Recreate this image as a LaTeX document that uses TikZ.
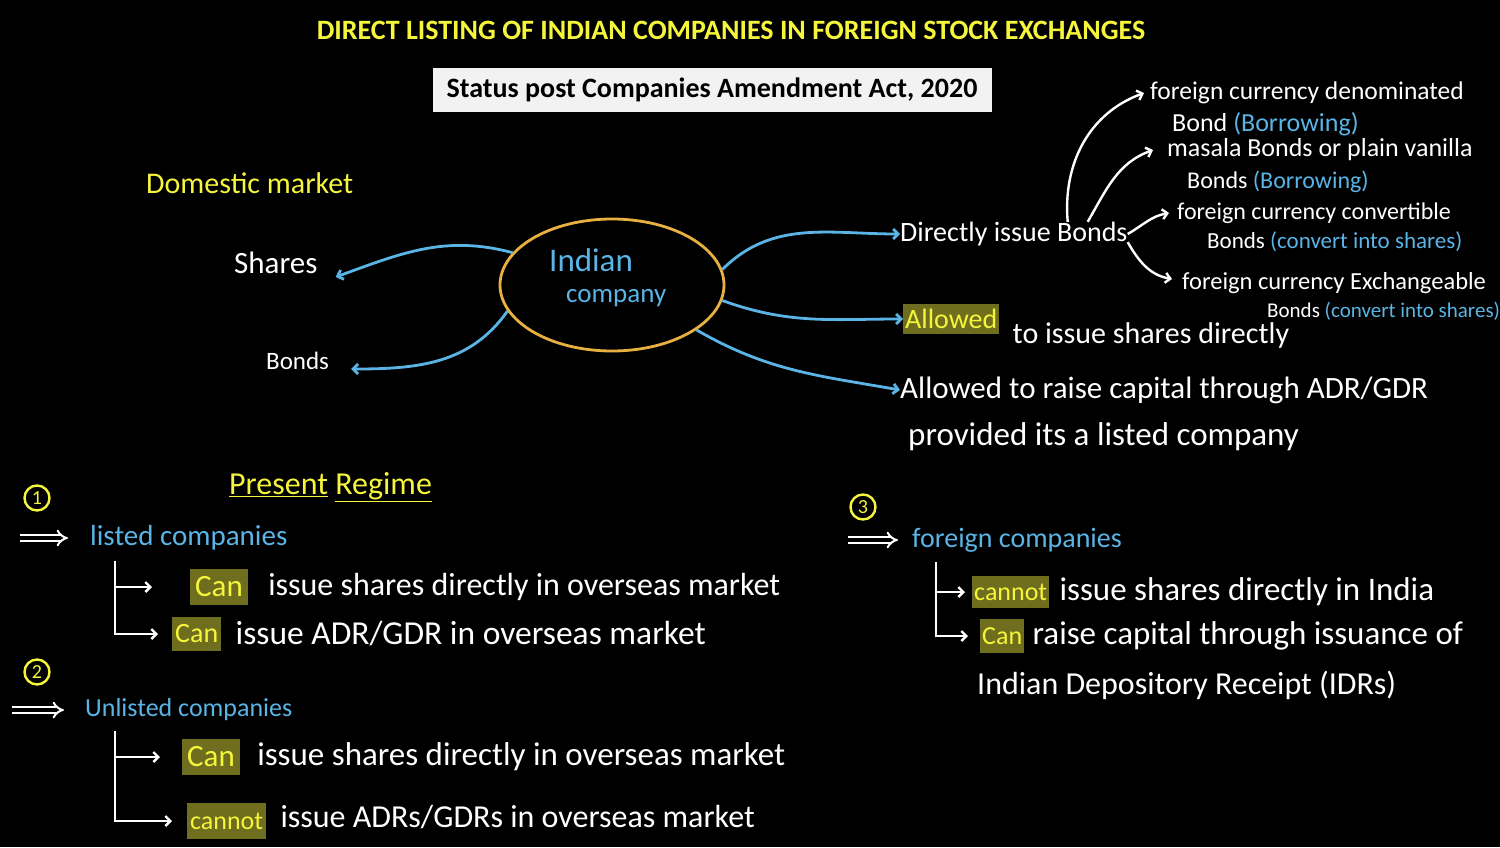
\documentclass[tikz,border=0pt]{standalone}
\usepackage{fontspec}
\setmainfont{Carlito}
\usetikzlibrary{positioning,shapes.geometric,arrows.meta}

\definecolor{chalkblue}{HTML}{5AB4E6}
\definecolor{chalkyellow}{HTML}{F5F53C}
\definecolor{chalkorange}{HTML}{E8B040}
\definecolor{marker}{HTML}{6E6E1E}
\definecolor{boxgray}{HTML}{F2F2F2}

\tikzset{
  hand/.style={font=\fontsize{#1}{#1}\selectfont, anchor=west, text=white},
  hilite/.style={fill=marker, text=chalkyellow, inner xsep=5pt, inner ysep=8pt, anchor=west,
    font=\fontsize{#1}{#1}\selectfont},
  link/.style={->, chalkblue, line width=2.8pt},
  chalk/.style={->, white, line width=2.4pt},
  tree/.style={->, white, line width=2.4pt},
  implies/.style={-{Implies}, draw=white, double=black, double distance=3.5pt, line width=2pt},
  numcirc/.style={circle, draw=chalkyellow, line width=2.4pt, text=chalkyellow, minimum size=25pt,
    inner sep=0pt, font=\fontsize{20}{20}\selectfont},
}

\begin{document}
\begin{tikzpicture}[x=1pt,y=-1pt,>={Straight Barb[length=5pt,width=10pt]},every node/.style={inner sep=0pt}]
		\fill[black] (0,0) rectangle (1500,847);
		\useasboundingbox (0,0) rectangle (1500,847);

		% heading
		\node (title) [text=chalkyellow, font=\fontsize{28}{28}\selectfont\bfseries] at (731,30)
		  {DIRECT LISTING OF INDIAN COMPANIES IN FOREIGN STOCK EXCHANGES};
		\node (status) [fill=boxgray, minimum width=559, minimum height=44, font=\fontsize{28}{28}\selectfont\bfseries]
		  at (712,90) {Status post Companies Amendment Act, 2020};

		% the company and the domestic market
		\node (domestic) [hand=30, text=chalkyellow] at (146,183) {Domestic market};
		\node (company) [ellipse, draw=chalkorange, line width=2.8pt, minimum width=224, minimum height=132] at (612,285) {};
		\node (indian) [hand=33, text=chalkblue] at (549,260) {Indian};
		\node (companytxt) [hand=27, text=chalkblue] at (566,298) {company};
		\node (shares) [hand=31] at (234,263) {Shares};
		\node (bonds) [hand=25] at (266,361) {Bonds};

		% foreign market
		\node (direct) [hand=28, anchor=west] at (900,234) {Directly issue Bonds};
		\node (allowed) [hilite=28, inner xsep=2pt, inner ysep=5pt] at (903,319) {Allowed};
		\node (allowedtxt) [hand=30, right=13pt of allowed, yshift=-16pt] {to issue shares directly};
		\node (adr) [hand=31] at (900,390) {Allowed to raise capital through ADR/GDR};
		\node (provided) [hand=33] at (908,437) {provided its a listed company};

		\node (fcd) [hand=25.5] at (1150,93) {foreign currency denominated};
		\node (fcdb) [hand=26] at (1172,124) {Bond \textcolor{chalkblue}{(Borrowing)}};
		\node (masala) [hand=26] at (1167,150) {masala Bonds or plain vanilla};
		\node (masalab) [hand=24] at (1187,182) {Bonds \textcolor{chalkblue}{(Borrowing)}};
		\node (fccb) [hand=24] at (1177,213) {foreign currency convertible};
		\node (fccbb) [hand=23] at (1207,242) {Bonds \textcolor{chalkblue}{(convert into shares)}};
		\node (fceb) [hand=24.5] at (1182,283) {foreign currency Exchangeable};
		\node (fcebb) [hand=21] at (1267,311) {Bonds \textcolor{chalkblue}{(convert into shares)}};

		% present regime
		\node (regime) [hand=32, text=chalkyellow] at (229,487) {\underline{Present} \underline{Regime}};

		\node (num1) [numcirc] at (37,498) {1};
		\node (listed) [hand=29, text=chalkblue] at (90,538) {listed companies};
		\node (can1) [hilite=31] at (190,587) {Can};
		\node (listed1) [hand=32, right=20pt of can1] {issue shares directly in overseas market};
		\node (can2) [hilite=28, inner xsep=3pt] at (172,634) {Can};
		\node (listed2) [hand=33.5, right=14pt of can2] {issue ADR/GDR in overseas market};

		\node (num2) [numcirc] at (37,672) {2};
		\node (unlisted) [hand=26, text=chalkblue] at (85,710) {Unlisted companies};
		\node (can3) [hilite=31] at (182,757) {Can};
		\node (unlisted1) [hand=33, right=17pt of can3] {issue shares directly in overseas market};
		\node (cannot1) [hilite=26, inner xsep=3pt, inner ysep=10pt] at (187,821) {cannot};
		\node (unlisted2) [hand=32, right=14pt of cannot1, yshift=4pt] {issue ADRs/GDRs in overseas market};

		\node (num3) [numcirc] at (863,507) {3};
		\node (foreign) [hand=28, text=chalkblue] at (912,540) {foreign companies};
		\node (cannot2) [hilite=26, inner xsep=2pt] at (972,592) {cannot};
		\node (foreign1) [hand=33, right=10pt of cannot2] {issue shares directly in India};
		\node (can4) [hilite=26, inner xsep=2pt] at (980,636) {Can};
		\node (foreign2) [hand=33, right=8pt of can4] {raise capital through issuance of};
		\node (idr) [hand=32] at (977,685) {Indian Depository Receipt (IDRs)};

		% connect the nodes
		\draw[link] (company.162) to[out=165,in=20] ([shift={(18,14)}]shares.east);
		\draw[link] (company.194) to[out=235,in=0] ([shift={(22,8)}]bonds.east);
		\draw[link] (company.8) to[out=45,in=180] (direct.west);
		\draw[link] (company.352) to[out=-20,in=180] (allowed.west);
		\draw[link] (company.332) to[out=-30,in=170] (adr.west);

		\draw[chalk] ([xshift=-60]direct.north east) to[out=95,in=200] ([xshift=-6]fcd.west);
		\draw[chalk] ([xshift=-40]direct.north east) to[out=60,in=200] ([xshift=-14]masala.west);
		\draw[chalk] (direct.east) to[out=30,in=190] ([xshift=-8]fccb.west);
		\draw[chalk] ([yshift=4]direct.south east) to[out=-60,in=170] ([shift={(-10,-4)}]fceb.west);

		\draw[implies] ([xshift=-70]listed.west) -- ([xshift=-22]listed.west);
		\draw[implies] ([xshift=-73]unlisted.west) -- ([xshift=-21]unlisted.west);
		\draw[implies] ([xshift=-64]foreign.west) -- ([xshift=-14]foreign.west);

		\draw[tree, shorten >=38pt] ([shift={(25,10)}]listed.south west) |- (can1.west);
		\draw[tree, shorten >=14pt] ([shift={(25,10)}]listed.south west) |- (can2.west);
		\draw[tree, shorten >=22pt] ([shift={(30,10)}]unlisted.south west) |- (can3.west);
		\draw[tree, shorten >=15pt] ([shift={(30,10)}]unlisted.south west) |- (cannot1.west);
		\draw[tree, shorten >=7pt] ([shift={(24,10)}]foreign.south west) |- (cannot2.west);
		\draw[tree, shorten >=12pt] ([shift={(24,10)}]foreign.south west) |- (can4.west);

	\end{tikzpicture}
\end{document}
